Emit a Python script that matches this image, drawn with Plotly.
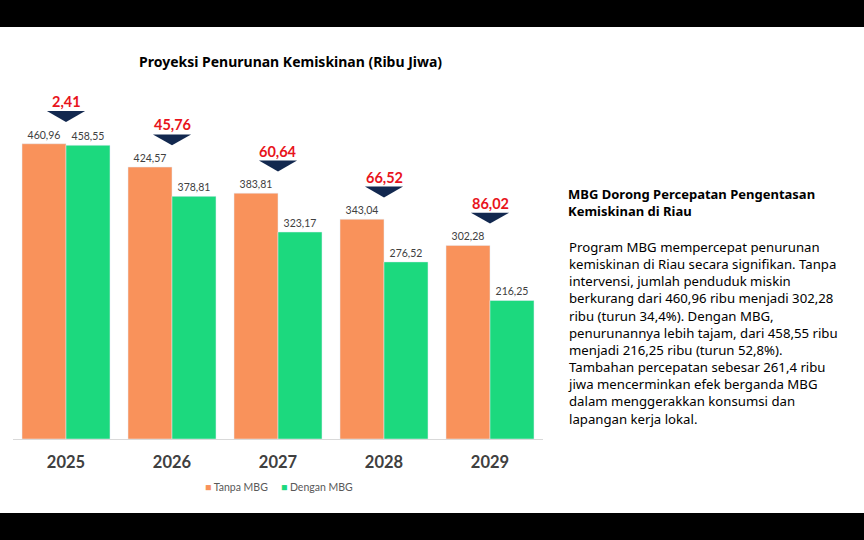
import plotly.graph_objects as go

# data
years = ["2025", "2026", "2027", "2028", "2029"]
tanpa_mbg = [460.96, 424.57, 383.81, 343.04, 302.28]
dengan_mbg = [458.55, 378.81, 323.17, 276.52, 216.25]
selisih = [2.41, 45.76, 60.64, 66.52, 86.02]
series_names = ["Tanpa MBG", "Dengan MBG"]

ORANGE = "#F9925B"
GREEN = "#1CD97E"
NAVY = "#12284F"
RED = "#E8141C"
GREY = "#404040"

W, H = 864, 540
# plot area in pixels
L, R, T, B = 13, 543, 88, 439
YMAX = 548


def fmt(v):
    return f"{v:.2f}".replace(".", ",")


def py(p):
    # pixel row -> paper y
    return (B - p) / (B - T)


def px(p):
    # pixel column -> paper x
    return (p - L) / (R - L)


xs = list(range(len(years)))

fig = go.Figure()
fig.add_trace(go.Bar(
    x=xs, y=tanpa_mbg, name=series_names[0], marker_color=ORANGE,
    text=[fmt(v) for v in tanpa_mbg], textposition="outside",
    textfont=dict(size=10.5, color=GREY, family="Lato"), cliponaxis=False,
))
fig.add_trace(go.Bar(
    x=xs, y=dengan_mbg, name=series_names[1], marker_color=GREEN,
    text=[fmt(v) for v in dengan_mbg], textposition="outside",
    textfont=dict(size=10.5, color=GREY, family="Lato"), cliponaxis=False,
))

shapes = []
annotations = []
# down arrows with the gap value above each year
tri_half = 0.18
tri_h = 17
gap = 34
for i, (t, s) in enumerate(zip(tanpa_mbg, selisih)):
    tip = t + gap
    top = tip + tri_h
    shapes.append(dict(
        type="path", xref="x", yref="y",
        path=f"M {i - tri_half} {top} L {i + tri_half} {top} L {i} {tip} Z",
        fillcolor=NAVY, line=dict(width=0),
    ))
    annotations.append(dict(
        x=i, y=top, xref="x", yref="y", yanchor="bottom", yshift=-1,
        text=f"<b>{fmt(s)}</b>", showarrow=False,
        font=dict(size=14.5, color=RED, family="Lato"),
    ))

# black bands top and bottom
shapes.append(dict(type="rect", xref="paper", yref="paper",
                   x0=px(0), x1=px(W), y0=py(0), y1=py(27),
                   fillcolor="black", line=dict(width=0), layer="below"))
shapes.append(dict(type="rect", xref="paper", yref="paper",
                   x0=px(0), x1=px(W), y0=py(513), y1=py(H),
                   fillcolor="black", line=dict(width=0), layer="below"))

annotations.append(dict(
    x=px(290), y=py(62), xref="paper", yref="paper", yanchor="middle",
    text="<b>Proyeksi Penurunan Kemiskinan (Ribu Jiwa)</b>", showarrow=False,
    font=dict(size=14, color="black", family="Noto Sans"),
))

# compact legend like the original
legend_html = "\u2003\u2002".join(
    f"<span style='color:{c}'>■</span> {n}"
    for c, n in zip([ORANGE, GREEN], series_names)
)
annotations.append(dict(
    x=px(279), y=py(487), xref="paper", yref="paper", yanchor="middle",
    text=legend_html, showarrow=False,
    font=dict(size=10.5, color="#595959", family="Lato"),
))

annotations.append(dict(
    x=px(566), y=py(183), xref="paper", yref="paper",
    xanchor="left", yanchor="top", align="left", showarrow=False,
    text="<b>MBG Dorong Percepatan Pengentasan<br>Kemiskinan di Riau</b>",
    font=dict(size=13, color="black", family="Noto Sans"),
))

body = ("Program MBG mempercepat penurunan<br>"
        "kemiskinan di Riau secara signifikan. Tanpa<br>"
        "intervensi, jumlah penduduk miskin<br>"
        "berkurang dari 460,96 ribu menjadi 302,28<br>"
        "ribu (turun 34,4%). Dengan MBG,<br>"
        "penurunannya lebih tajam, dari 458,55 ribu<br>"
        "menjadi 216,25 ribu (turun 52,8%).<br>"
        "Tambahan percepatan sebesar 261,4 ribu<br>"
        "jiwa mencerminkan efek berganda MBG<br>"
        "dalam menggerakkan konsumsi dan<br>"
        "lapangan kerja lokal.")
annotations.append(dict(
    x=px(566), y=py(236), xref="paper", yref="paper",
    xanchor="left", yanchor="top", align="left", showarrow=False,
    text=body,
    font=dict(size=13.2, color="black", family="Noto Sans"),
))

fig.update_layout(
    width=W, height=H,
    margin=dict(l=L, r=W - R, t=T, b=H - B, pad=0),
    paper_bgcolor="white", plot_bgcolor="white",
    barmode="group", bargap=0.17, bargroupgap=0,
    showlegend=False,
    shapes=shapes, annotations=annotations,
    font=dict(family="Lato"),
)
fig.update_xaxes(
    tickvals=xs, ticktext=[f"<b>{y}</b>" for y in years],
    range=[-0.5, len(years) - 0.5],
    tickfont=dict(size=16.5, color=GREY, family="Lato"),
    showline=True, linecolor="#D9D9D9", linewidth=1,
    ticks="", showgrid=False, zeroline=False, ticklabelstandoff=8,
)
fig.update_yaxes(range=[0, YMAX], visible=False, showgrid=False, zeroline=False)

fig.write_html("out.html", config={"displayModeBar": False},
               post_script="document.body.style.margin='0';")
